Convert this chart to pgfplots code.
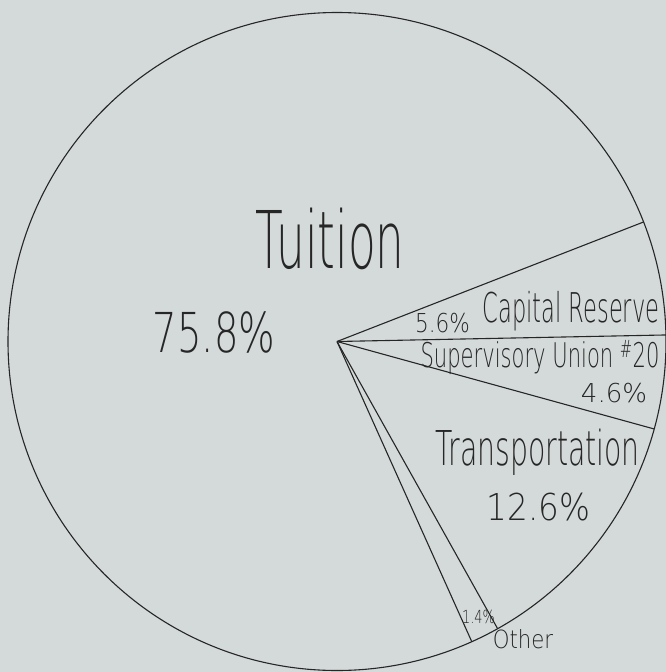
\documentclass[border=0pt]{standalone}
\usepackage{pgfplots}
\pgfplotsset{compat=1.18}
\usepackage{pgfplotstable}
\usepackage{fontspec}
\IfFontExistsTF{DejaVu Sans ExtraLight}{\newfontfamily\hand{DejaVu Sans ExtraLight}}{\newfontfamily\hand{DejaVu Sans}}
\definecolor{bgcol}{RGB}{212,218,217}
\definecolor{ink}{RGB}{38,38,38}
\pgfplotstableread{
label pct
Capital 5.6
Supervisory 4.6
Transportation 12.6
Other 1.4
Tuition 75.8
}\slices
\pgfplotstablecreatecol[create col/expr accum={\pgfmathaccuma+\thisrow{pct}}{0}]{cum}\slices
\newcommand{\hf}[1]{\hand\fontsize{#1}{#1}\selectfont}
\begin{document}
\begin{tikzpicture}
\fill[bgcol] (0,0) rectangle (666pt,672pt);
\begin{axis}[
  width=666pt, height=672pt, scale only axis,
  xmin=0, xmax=666, ymin=0, ymax=672, y dir=reverse,
  hide axis,
]
% slice boundaries: start angle 21.3 deg, clockwise, 3.6 deg per percent
\addplot[ink, line width=1.1pt, -, no markers,
  quiver={u={329*cos(21.3-3.6*(\thisrow{cum}-\thisrow{pct}))},
          v={-329*sin(21.3-3.6*(\thisrow{cum}-\thisrow{pct}))}}]
  table[x expr=337, y expr=341.5] {\slices};
\draw[ink, line width=1.1pt] (axis cs:337,341.5) circle[radius=329];
% labels
\node[ink, font=\hf{79.6}, anchor=base, xscale=0.57] at (axis cs:330,268) {Tuition};
\node[ink, font=\hf{55}, anchor=base, xscale=0.70] at (axis cs:214,352) {75.8\%};
\node[ink, font=\hf{26}, anchor=base, xscale=0.83] at (axis cs:442.5,332) {5.6\%};
\node[ink, font=\hf{41}, anchor=base, xscale=0.55] at (axis cs:571,322) {Capital Reserve};
\node[ink, font=\hf{34}, anchor=base, xscale=0.62] at (axis cs:540,367) {Supervisory Union \textsuperscript{\#}20};
\node[ink, font=\hf{26}, anchor=base, xscale=1.0] at (axis cs:614,402) {4.6\%};
\node[ink, font=\hf{48}, anchor=base, xscale=0.59] at (axis cs:537.5,465) {Transportation};
\node[ink, font=\hf{37}, anchor=base, xscale=0.88] at (axis cs:538.5,520) {12.6\%};
\node[ink, font=\hf{18}, anchor=base, xscale=0.72] at (axis cs:478.5,623) {1.4\%};
\node[ink, font=\hf{25}, anchor=base, xscale=0.85] at (axis cs:523,648) {Other};
\end{axis}
\end{tikzpicture}
\end{document}
